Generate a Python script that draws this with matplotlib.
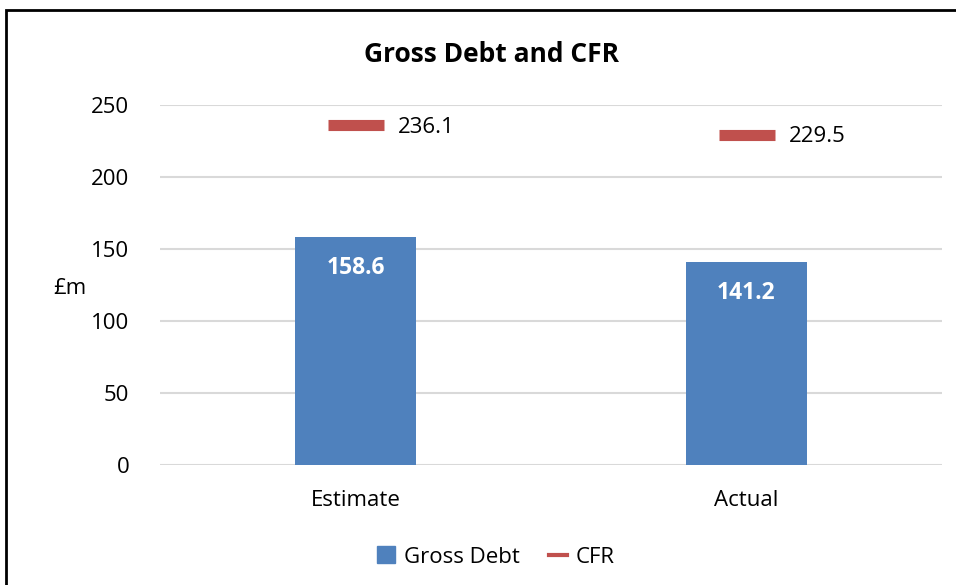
import matplotlib
matplotlib.use("Agg")
import matplotlib.pyplot as plt
from matplotlib.patches import Rectangle
from matplotlib.lines import Line2D

categories = ["Estimate", "Actual"]
gross_debt = [158.6, 141.2]
cfr = [236.1, 229.5]
yticks = [0, 50, 100, 150, 200, 250]

plt.rcParams['font.family'] = ['Open Sans', 'DejaVu Sans']

fig = plt.figure(figsize=(9.56, 5.85), dpi=100)
ax = fig.add_axes([160/956, 1-465/585, (942-160)/956, (465-105)/585])

x = list(range(len(categories)))
bars = ax.bar(x, gross_debt, width=0.31, color="#4F81BD", zorder=3, label="Gross Debt")
ax.plot(x, cfr, linestyle="none", marker="_", markersize=40, markeredgewidth=8,
        color="#C0504D", zorder=4, label="CFR")

for xi, v in zip(x, gross_debt):
    ax.annotate(f"{v:.1f}", (xi, v), xytext=(0, -31), textcoords="offset pixels",
                ha="center", va="center", color="white", fontsize=16.5, fontweight="bold", zorder=5)
for xi, v in zip(x, cfr):
    ax.annotate(f"{v:.1f}", (xi, v), xytext=(42, -2), textcoords="offset pixels",
                ha="left", va="center", color="black", fontsize=16, zorder=5)

ax.set_xlim(-0.5, 1.5)
ax.set_ylim(0, 250)
ax.set_yticks(yticks)
ax.set_xticks(x)
ax.set_xticklabels(categories)
ax.tick_params(axis="both", length=0, labelsize=16)
ax.tick_params(axis="y", pad=22)
ax.tick_params(axis="x", pad=18)
ax.grid(axis="y", color="#D9D9D9", linewidth=1.5, zorder=0)
for s in ax.spines.values():
    s.set_visible(False)

fig.text(492/956, 1-55/585, "Gross Debt and CFR", ha="center", va="center",
         fontsize=19, fontweight="bold")
fig.text(70/956, 1-288/585, "£m", ha="center", va="center", fontsize=16)

handles = [Rectangle((0, 0), 1, 1, color="#4F81BD"),
           Line2D([0], [0], color="#C0504D", linewidth=3)]
fig.legend(handles, ["Gross Debt", "CFR"], loc="center", bbox_to_anchor=(496/956, 1-557/585),
           ncol=2, frameon=False, fontsize=16, handlelength=0.8, handleheight=0.8,
           columnspacing=1.3, handletextpad=0.4)

fig.patches.append(Rectangle((6/956, -0.1), 1.2, 1 - 10/585 + 0.1, transform=fig.transFigure,
                             fill=False, edgecolor="black", linewidth=2, figure=fig))

fig.savefig("out.png", dpi=100)
